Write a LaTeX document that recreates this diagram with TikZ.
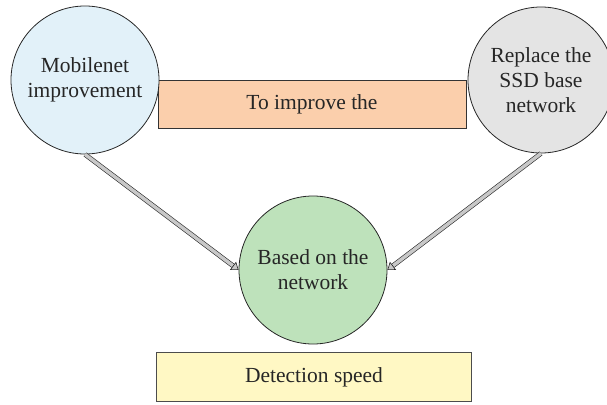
\documentclass[tikz,border=0pt]{standalone}
\usepackage{fontspec}
\setmainfont{Liberation Serif}
\usetikzlibrary{arrows.meta}
\definecolor{cblue}{HTML}{E2F1F9}
\definecolor{cgray}{HTML}{E4E4E4}
\definecolor{corange}{HTML}{FBCFAC}
\definecolor{cgreen}{HTML}{BEE2BB}
\definecolor{cyellow}{HTML}{FFF8C4}
\definecolor{carrow}{HTML}{C8C8C8}
\begin{document}
\begin{tikzpicture}[x=1pt,y=-1pt,
  every node/.style={font=\fontsize{21.5}{25}\selectfont, text=black!85},
  bubble/.style={circle, draw=black!85, line width=0.8pt, minimum size=148pt, inner sep=0pt, align=center},
  banner/.style={rectangle, draw=black!80, line width=0.8pt, inner sep=0pt},
  conn/.style={draw=black!85, line width=0.6pt, double=carrow, double distance=3.5pt,
    -{Triangle[open, length=7pt, width=10pt, fill=carrow]}}]
\useasboundingbox (0,0) rectangle (607,404);
\node[banner, fill=corange, minimum width=308pt, minimum height=48pt] (imp) at (312,104) {To improve the};
\node[bubble, fill=cblue] (mob) at (85,80) {Mobilenet\\improvement};
\node[bubble, fill=cgray, minimum size=146pt] (ssd) at (541,80) {Replace the\\SSD base\\network};
\node[bubble, fill=cgreen] (base) at (313,270) {Based on the\\network};
\node[banner, fill=cyellow, draw=black!70, line width=1.3pt, minimum width=315pt, minimum height=49pt] (det) at (314,377) {Detection speed};
\draw[conn] (mob.south) -- (base.west);
\draw[conn] (ssd.south) -- (base.east);
\end{tikzpicture}
\end{document}
